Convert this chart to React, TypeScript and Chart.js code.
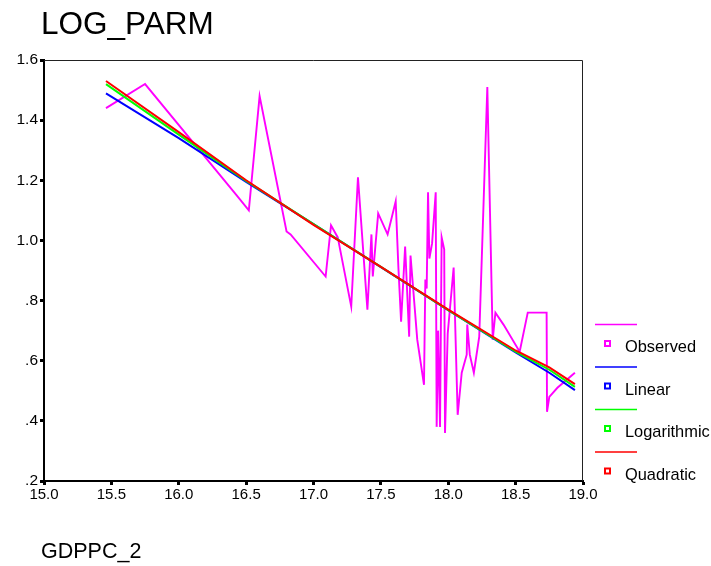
import React, { useEffect, useRef } from "react";
import { Chart, registerables } from "chart.js";

Chart.register(...registerables);

const TITLE = "LOG_PARM";
const X_LABEL = "GDPPC_2";
const SERIES_NAMES = ["Observed", "Linear", "Logarithmic", "Quadratic"];
const SERIES_COLORS = ["#ff00ff", "#0000ff", "#00ff00", "#ff0000"];

const OBS_X = [15.46, 15.75, 16.43, 16.52, 16.60, 16.80, 16.83, 17.09, 17.13, 17.18, 17.28, 17.33, 17.40, 17.43, 17.44, 17.48, 17.55, 17.61, 17.63, 17.65, 17.68, 17.71, 17.72, 17.77, 17.82, 17.83, 17.84, 17.85, 17.86, 17.88, 17.907, 17.914, 17.925, 17.939, 17.951, 17.97, 17.976, 17.996, 18.04, 18.07, 18.10, 18.137, 18.141, 18.16, 18.19, 18.23, 18.29, 18.33, 18.35, 18.41, 18.53, 18.59, 18.73, 18.733, 18.75, 18.81, 18.94];
const OBS_Y = [1.44, 1.52, 1.15, 1.10, 1.48, 1.03, 1.02, 0.88, 1.05, 1.01, 0.78, 1.21, 0.77, 1.02, 0.88, 1.09, 1.02, 1.13, 0.91, 0.73, 0.98, 0.68, 0.95, 0.67, 0.52, 0.87, 0.84, 1.16, 0.94, 0.99, 1.16, 0.38, 0.70, 0.38, 1.01, 0.97, 0.36, 0.69, 0.91, 0.42, 0.56, 0.62, 0.72, 0.62, 0.56, 0.68, 1.51, 0.67, 0.76, 0.72, 0.63, 0.76, 0.76, 0.43, 0.48, 0.51, 0.56];

const FIT_X = [15.46, 16.0, 16.5, 17.0, 17.5, 18.0, 18.5, 18.75, 18.94];
const LINEAR_Y = [1.489, 1.340, 1.195, 1.054, 0.911, 0.768, 0.628, 0.560, 0.502];
const LOG_Y = [1.520, 1.352, 1.198, 1.054, 0.912, 0.768, 0.630, 0.570, 0.513];
const QUAD_Y = [1.530, 1.360, 1.200, 1.052, 0.912, 0.770, 0.634, 0.578, 0.522];

const X_TICKS = [15.0, 15.5, 16.0, 16.5, 17.0, 17.5, 18.0, 18.5, 19.0];
const Y_TICK_LABELS = [".2", ".4", ".6", ".8", "1.0", "1.2", "1.4", "1.6"];

const FONT = "'Liberation Sans', Arial, sans-serif";

const toPoints = (xs: number[], ys: number[]) => xs.map((x, i) => ({ x, y: ys[i] }));

const decorPlugin = {
  id: "decor",
  beforeDatasetsDraw(chart: any) {
    const { ctx, chartArea } = chart;
    ctx.save();
    ctx.strokeStyle = "#222";
    ctx.lineWidth = 1;
    ctx.beginPath();
    ctx.moveTo(chartArea.left, chartArea.top + 0.5);
    ctx.lineTo(chartArea.right - 0.5, chartArea.top + 0.5);
    ctx.lineTo(chartArea.right - 0.5, chartArea.bottom);
    ctx.stroke();
    ctx.restore();
  },
  afterDraw(chart: any) {
    const { ctx } = chart;
    ctx.save();
    ctx.fillStyle = "#000";
    ctx.textBaseline = "alphabetic";
    ctx.textAlign = "left";
    ctx.font = `31.5px ${FONT}`;
    ctx.fillText(TITLE, 41, 34);
    ctx.font = `21.5px ${FONT}`;
    ctx.fillText(X_LABEL, 41, 558);
    // legend
    const y0 = 324;
    const step = 42.5;
    ctx.font = `16.4px ${FONT}`;
    SERIES_NAMES.forEach((name, i) => {
      const ly = y0 + i * step;
      ctx.strokeStyle = SERIES_COLORS[i];
      ctx.lineWidth = 1.5;
      ctx.beginPath();
      ctx.moveTo(595, ly + 0.5);
      ctx.lineTo(637, ly + 0.5);
      ctx.stroke();
      ctx.lineWidth = 2;
      ctx.strokeRect(605, ly + 17, 5, 5);
      ctx.fillStyle = "#000";
      ctx.fillText(name, 625, ly + 28);
    });
    ctx.restore();
  },
};

export default function App() {
  const ref = useRef<HTMLCanvasElement | null>(null);

  useEffect(() => {
    if (!ref.current) return;
    const lineOpts = (i: number) => ({
      borderColor: SERIES_COLORS[i],
      backgroundColor: SERIES_COLORS[i],
      borderWidth: 2,
      pointRadius: 0,
      showLine: true,
      tension: 0,
    });
    const chart = new Chart(ref.current, {
      type: "scatter",
      data: {
        datasets: [
          { label: SERIES_NAMES[0], data: toPoints(OBS_X, OBS_Y), ...lineOpts(0), borderWidth: 1.9, order: 4 },
          { label: SERIES_NAMES[1], data: toPoints(FIT_X, LINEAR_Y), ...lineOpts(1), order: 3 },
          { label: SERIES_NAMES[2], data: toPoints(FIT_X, LOG_Y), ...lineOpts(2), order: 2 },
          { label: SERIES_NAMES[3], data: toPoints(FIT_X, QUAD_Y), ...lineOpts(3), order: 1 },
        ],
      },
      options: {
        animation: false,
        responsive: false,
        maintainAspectRatio: false,
        layout: { padding: { left: 0, top: 60, right: 128, bottom: 0 } },
        plugins: {
          legend: { display: false },
          tooltip: { enabled: false },
          title: { display: false },
        },
        scales: {
          x: {
            type: "linear",
            min: 15,
            max: 19,
            afterBuildTicks: (scale: any) => {
              scale.ticks = X_TICKS.map((v) => ({ value: v }));
            },
            afterFit: (scale: any) => {
              scale.height = 85;
            },
            ticks: {
              color: "#000",
              font: { family: FONT, size: 15 },
              padding: 1,
              maxRotation: 0,
              autoSkip: false,
              callback: (v: any) => Number(v).toFixed(1),
            },
            grid: {
              display: true,
              drawOnChartArea: false,
              drawTicks: true,
              tickLength: 4,
              tickWidth: 3,
              tickColor: "#000",
            },
            border: { display: true, color: "#000", width: 2 },
          },
          y: {
            type: "linear",
            min: 0.2,
            max: 1.6,
            afterBuildTicks: (scale: any) => {
              scale.ticks = Y_TICK_LABELS.map((t) => ({ value: parseFloat(t) }));
            },
            afterFit: (scale: any) => {
              scale.width = 44;
            },
            ticks: {
              color: "#000",
              font: { family: FONT, size: 15.5 },
              padding: 2,
              autoSkip: false,
              callback: (v: any) => {
                const idx = Y_TICK_LABELS.findIndex((t) => Math.abs(parseFloat(t) - Number(v)) < 1e-6);
                return idx >= 0 ? Y_TICK_LABELS[idx] : "";
              },
            },
            grid: {
              display: true,
              drawOnChartArea: false,
              drawTicks: true,
              tickLength: 4,
              tickWidth: 3,
              tickColor: "#000",
            },
            border: { display: true, color: "#000", width: 2 },
          },
        },
      },
      plugins: [decorPlugin],
    });
    return () => chart.destroy();
  }, []);

  return (
    <div style={{ position: "fixed", left: 0, top: 0, width: 711, height: 566, background: "#fff" }}>
      <canvas ref={ref} width={711} height={566} style={{ width: 711, height: 566, display: "block" }} />
    </div>
  );
}
